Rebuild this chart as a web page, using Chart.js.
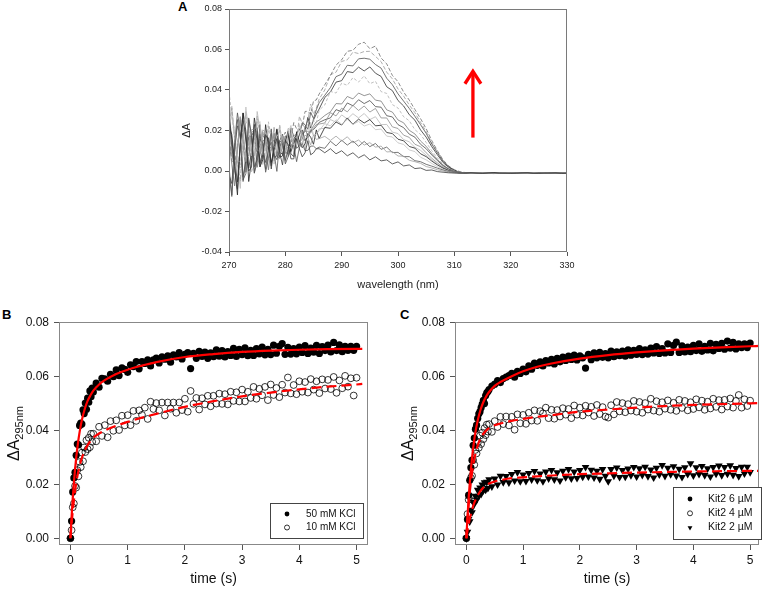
<!DOCTYPE html>
<html>
<head>
<meta charset="utf-8">
<script src="https://cdn.jsdelivr.net/npm/chart.js@4.4.1/dist/chart.umd.min.js"></script>
<style>
  html, body { margin: 0; padding: 0; background: #fff; }
  body { width: 764px; height: 592px; position: relative; overflow: hidden; font-family: "Liberation Sans", Arial, sans-serif; }
  .panel { position: absolute; }
  .tag { position: absolute; font-weight: bold; font-size: 13px; line-height: 13px; color: #000; }
</style>
</head>
<body>
<div class="tag" style="left:178px;top:0px">A</div>
<div class="tag" style="left:2px;top:308px">B</div>
<div class="tag" style="left:400px;top:308px">C</div>
<div class="panel" style="left:140px;top:0;width:450px;height:300px"><canvas id="chart-a"></canvas></div>
<div class="panel" style="left:0;top:300px;width:380px;height:292px"><canvas id="chart-b"></canvas></div>
<div class="panel" style="left:384px;top:300px;width:380px;height:292px"><canvas id="chart-c"></canvas></div>
<script>
/* ---------- data (absorbance values in units of 1e-4) ---------- */

// Panel A – difference spectra
const wavelengths = [270,270.5,271,271.5,272,272.5,273,273.5,274,274.5,275,275.5,276,276.5,277,277.5,278,278.5,279,279.5,280,280.5,281,281.5,282,282.5,283,283.5,284,284.5,285,285.5,286,
  287,288,289,290,291,292,293,294,295,296,297,298,299,300,301,302,303,304,305,306,307,308,309,310,
  311,312,313,314,315,316,317,318,319,320,321,322,323,324,325,326,327,328,329,330];

const spectrum1 = [270,120,10,-90,130,250,170,0,20,230,150,20,80,180,150,10,120,160,90,30,150,130,60,60,160,110,70,90,150,80,90,110,110,
  90,110,85,100,75,90,65,80,55,70,50,55,35,45,25,30,12,15,3,5,-3,-6,-9,-10,
  -10,-11,-9,-10,-12,-10,-9,-11,-10,-12,-11,-10,-9,-11,-12,-10,-11,-10,-12,-11];
const spectrum2 = [215,90,-6,100,269,212,46,138,204,206,107,92,203,191,74,110,216,136,78,169,167,127,112,159,170,139,138,178,164,129,178,156,160,
  171,151,172,148,169,139,153,128,140,118,123,94,96,74,73,53,46,38,22,15,6,0,-6,-9,
  -11,-10,-12,-9,-10,-11,-13,-10,-9,-11,-10,-12,-10,-9,-11,-10,-12,-11,-9,-10];
const spectrum3 = [-10,-126,100,254,162,-44,-12,254,166,-8,42,158,136,-6,60,186,86,-2,150,133,35,70,129,125,46,116,137,100,102,123,123,110,118,
  112,147,124,152,128,148,122,146,120,136,107,118,91,92,71,71,51,46,33,24,14,5,-3,-8,
  -9,-11,-10,-12,-10,-9,-11,-10,-12,-10,-11,-9,-10,-12,-11,-10,-9,-11,-10,-12];
const spectrum4 = [330,260,210,50,46,150,316,188,74,142,226,244,78,158,212,174,116,170,194,164,122,186,225,107,156,223,173,158,174,241,176,182,199,
  234,223,253,231,255,230,245,222,232,204,207,172,168,139,131,104,96,68,55,37,21,8,-1,-6,
  -10,-12,-10,-11,-9,-10,-12,-11,-10,-9,-11,-10,-12,-10,-11,-9,-10,-11,-12,-10];
const spectrum5 = [285,155,20,-118,140,287,196,-52,54,262,178,21,56,229,113,42,100,208,68,74,149,182,85,71,194,146,115,134,185,167,132,203,160,
  215,211,242,227,262,231,256,237,254,223,226,190,185,157,149,121,113,85,71,49,30,14,2,-5,
  -11,-9,-10,-12,-11,-10,-9,-11,-12,-10,-10,-11,-9,-12,-10,-11,-10,-9,-11,-10];
const spectrum6 = [140,80,42,100,242,156,88,74,192,198,106,86,194,138,102,100,188,138,84,171,149,123,150,174,183,123,194,197,196,188,211,230,232,
  237,288,272,310,292,324,299,321,291,309,262,262,218,210,177,166,132,120,90,63,40,19,5,-3,
  -9,-10,-11,-10,-12,-9,-10,-11,-10,-11,-12,-10,-9,-10,-11,-12,-10,-10,-11,-9];
const spectrum7 = [-20,-62,110,223,174,-28,56,168,172,-11,84,181,97,8,110,142,82,56,114,156,52,105,146,157,112,126,203,149,182,199,205,220,240,
  253,262,303,293,336,322,352,333,348,318,315,273,267,229,214,182,167,132,110,79,51,26,9,-2,
  -10,-11,-9,-10,-12,-10,-11,-10,-9,-12,-10,-11,-10,-9,-11,-10,-12,-10,-11,-10];
const spectrum8 = [390,275,155,90,14,180,249,202,86,78,244,196,107,102,243,161,104,130,226,126,88,199,189,156,147,234,193,192,240,252,251,238,300,
  326,393,385,434,423,461,439,470,431,443,392,383,328,311,268,248,204,181,141,100,65,34,13,1,
  -8,-10,-11,-10,-9,-12,-10,-11,-10,-10,-9,-11,-12,-10,-11,-9,-10,-12,-10,-11];
const spectrum9 = [220,180,50,-54,130,286,148,14,92,196,214,38,98,172,164,26,130,204,94,82,145,197,96,140,187,206,181,196,265,212,252,281,306,
  363,390,439,446,491,486,513,494,514,483,467,416,397,348,321,278,251,203,167,120,80,42,18,3,
  -7,-9,-10,-11,-10,-12,-9,-10,-11,-10,-12,-10,-9,-11,-10,-10,-12,-11,-9,-10];
const spectrum10 = [180,50,32,120,252,176,38,124,192,158,86,126,174,158,102,120,158,128,114,160,192,112,165,239,208,208,218,294,295,281,346,351,380,
  426,471,523,549,591,596,626,636,604,617,558,529,472,441,390,350,304,259,209,150,100,55,25,6,
  -3,-8,-10,-9,-11,-10,-12,-10,-9,-11,-10,-11,-10,-12,-9,-10,-11,-10,-12,-10];
const spectrum11 = [20,-118,140,287,196,-52,54,262,178,21,56,229,113,42,100,208,68,74,149,182,94,83,213,171,149,177,238,229,206,290,259,302,337,
  374,412,466,478,522,519,554,557,552,526,508,458,426,381,345,309,270,229,186,133,89,48,21,4,
  -9,-10,-11,-10,-9,-12,-10,-11,-10,-9,-11,-10,-12,-10,-9,-11,-10,-12,-10,-11];
const spectrum12 = [240,310,160,50,-50,170,290,210,40,60,270,190,60,120,220,190,50,160,200,130,85,210,200,140,155,270,235,210,250,330,280,310,355,
  400,475,488,541,549,587,580,590,591,566,540,488,455,405,370,326,288,240,195,139,95,52,22,5,
  -8,-10,-9,-11,-10,-12,-10,-9,-11,-10,-12,-10,-11,-9,-10,-12,-10,-11,-10,-9];
const spectrum13 = [160,30,-74,110,266,128,-6,72,176,194,18,78,152,144,6,110,184,74,62,125,173,71,113,157,173,144,156,221,163,198,223,243,251,
  274,292,333,331,368,356,385,372,381,350,345,302,291,252,238,201,183,148,122,87,57,29,11,-1,
  -10,-12,-10,-9,-11,-10,-11,-12,-10,-9,-10,-11,-10,-12,-10,-9,-11,-10,-11,-12];
const spectrum14 = [200,320,160,30,-86,140,294,202,-4,28,294,206,32,82,198,176,34,100,226,126,41,194,180,84,122,184,184,108,182,208,175,182,208,
  211,254,241,277,257,283,262,284,254,268,229,230,192,185,155,144,117,102,78,55,34,16,3,-4,
  -11,-10,-9,-12,-10,-11,-10,-9,-12,-11,-10,-10,-9,-11,-12,-10,-11,-9,-10,-11];

const spectra = [spectrum1, spectrum2, spectrum3, spectrum4, spectrum5, spectrum6, spectrum7,
  spectrum8, spectrum9, spectrum10, spectrum11, spectrum12, spectrum13, spectrum14];
const spectrumColors = ['#3a3a3a', '#a0a0a0', '#555555', '#c0c0c0', '#222222', '#8c8c8c', '#4a4a4a',
  '#b0b0b0', '#303030', '#6e6e6e', '#505050', '#9a9a9a', '#7a7a7a', '#b8b8b8'];
const spectrumDash = [[], [], [], [], [], [], [], [3, 2], [], [4, 2], [], [4, 2], [], []];

const arrowFrom = [313.3, 0.0165];
const arrowTo = [313.3, 0.050];

const wlTicks = [270, 280, 290, 300, 310, 320, 330];
const dATicks = [-0.04, -0.02, 0, 0.02, 0.04, 0.06, 0.08];

// Panels B and C – stopped-flow traces at 295 nm
const time = [0,0.02,0.04,0.06,0.08,0.1,0.12,0.14,0.16,0.18,0.2,0.22,0.24,0.26,0.28,0.3,0.32,0.34,0.36,0.38,0.4,
  0.45,0.5,0.55,0.6,0.65,0.7,0.75,0.8,0.85,0.9,0.95,1,
  1.05,1.1,1.15,1.2,1.25,1.3,1.35,1.4,1.45,1.5,1.55,1.6,1.65,1.7,1.75,1.8,1.85,1.9,1.95,2,
  2.05,2.1,2.15,2.2,2.25,2.3,2.35,2.4,2.45,2.5,2.55,2.6,2.65,2.7,2.75,2.8,2.85,2.9,2.95,3,
  3.05,3.1,3.15,3.2,3.25,3.3,3.35,3.4,3.45,3.5,3.55,3.6,3.65,3.7,3.75,3.8,3.85,3.9,3.95,4,
  4.05,4.1,4.15,4.2,4.25,4.3,4.35,4.4,4.45,4.5,4.55,4.6,4.65,4.7,4.75,4.8,4.85,4.9,4.95,5];

const kcl50 = [0,64,172,224,245,308,350,347,419,428,424,477,463,502,479,520,505,547,525,558,543,
  576,561,594,592,583,609,600,625,604,633,627,616,
  644,637,656,629,656,649,662,640,662,669,651,674,665,677,654,681,673,689,666,683,
  689,630,687,668,694,675,691,668,688,674,700,676,697,673,693,679,705,675,701,682,
  707,678,698,679,704,685,710,681,701,682,717,687,713,723,683,709,684,704,685,710,
  690,715,686,706,691,716,686,712,697,717,692,727,697,718,693,713,698,713,698,713];
const kcl10 = [0,30,115,129,194,188,253,230,283,264,318,286,337,320,364,331,373,338,388,358,388,
  360,414,380,420,375,435,399,438,402,455,419,457,
  420,473,436,475,458,485,443,507,480,502,475,504,456,504,481,504,466,504,476,518,
  470,547,499,521,478,520,497,529,490,529,500,537,499,535,497,544,510,542,508,552,
  508,544,521,562,518,555,531,562,513,571,532,558,524,570,541,597,538,569,535,583,
  544,580,541,591,552,583,539,590,556,588,554,599,540,586,557,603,563,594,530,596];

const kit6 = [0,70,160,215,262,290,345,372,405,420,445,462,470,485,498,512,500,530,540,545,552,
  565,572,585,578,593,598,604,612,598,620,612,628,
  618,640,628,650,642,655,640,660,651,664,647,668,655,673,660,676,664,680,662,677,
  670,632,683,663,688,670,690,672,686,670,695,674,692,678,695,676,700,680,698,683,
  704,682,700,684,706,688,712,686,704,688,722,690,716,728,690,714,692,710,693,716,
  697,722,694,713,699,724,696,720,705,724,702,732,706,727,703,722,708,722,708,725];
const kit4 = [0,90,143,155,224,232,290,273,328,315,354,336,381,350,392,368,409,383,422,396,424,
  395,435,413,451,424,452,419,451,403,460,427,458,
  425,466,437,475,436,472,464,485,446,477,444,476,452,483,459,480,446,493,459,485,
  456,492,467,488,454,495,461,487,452,448,494,460,506,471,502,468,498,474,510,470,
  506,466,502,478,518,474,509,470,505,481,512,477,503,473,514,484,510,475,505,480,
  516,486,511,477,507,482,518,488,513,478,514,489,519,485,510,532,485,516,491,511];
const kit2 = [0,23,71,62,105,96,134,127,157,142,179,157,188,164,199,178,207,180,209,186,218,
  192,221,199,231,208,230,207,238,214,245,211,236,
  212,242,218,249,215,240,211,247,222,253,218,244,214,250,226,256,222,247,223,253,
  228,264,229,254,225,250,220,256,231,211,256,232,262,227,253,228,258,234,264,229,
  259,235,265,230,255,225,261,236,271,231,261,237,267,232,257,227,263,238,278,233,
  263,238,268,234,259,229,264,239,269,234,264,239,270,235,260,230,265,240,265,245];

// fitted curves
const fitTimeB = [0,0.02,0.04,0.06,0.08,0.1,0.13,0.16,0.2,0.25,0.3,0.35,0.4,0.5,0.6,0.8,1,1.25,1.5,2,2.5,3,3.5,4,4.5,5,5.1];
const fitKcl50 = [0,79,147,204,255,298,351,394,439,480,510,531,548,571,587,610,626,641,654,673,684,692,697,700,702,703,703];
const fitKcl10 = [0,54,100,139,174,203,240,268,298,326,346,361,373,389,400,418,432,448,462,488,509,527,541,553,563,571,573];
const fitTimeC = [0,0.02,0.04,0.06,0.08,0.1,0.13,0.16,0.2,0.25,0.3,0.35,0.4,0.5,0.6,0.8,1,1.25,1.5,2,2.5,3,3.5,4,4.5,5,5.16];
const fitKit6 = [0,79,147,204,255,298,351,394,437,477,506,527,543,566,580,602,620,637,649,667,680,690,698,704,709,713,714];
const fitKit4 = [0,67,123,170,209,242,282,313,344,371,388,400,409,420,426,436,443,451,457,470,478,485,491,495,498,501,502];
const fitKit2 = [0,28,51,72,90,106,126,142,159,176,188,197,203,211,216,223,226,230,233,238,241,244,246,248,249,250,250];

const timeTicks = [0, 1, 2, 3, 4, 5];
const absTicks = [0, 0.02, 0.04, 0.06, 0.08];

/* ---------- helpers ---------- */

const FONT = '"Liberation Sans", Arial, sans-serif';
const RED = '#ff0000';
Chart.defaults.font.family = FONT;

const toXY = (xs, ys) => ys.map((v, i) => ({ x: xs[i], y: v / 1e4 }));

// box around the plot area
const framePlugin = {
  id: 'frame',
  afterDatasetsDraw(chart, args, opts) {
    const { ctx, chartArea: a } = chart;
    ctx.save();
    ctx.strokeStyle = opts.color || '#888';
    ctx.lineWidth = 1;
    const l = Math.round(a.left) + 0.5, t = Math.round(a.top) + 0.5;
    const r = Math.round(a.right) - 0.5, b = Math.round(a.bottom) - 0.5;
    ctx.strokeRect(l, t, r - l, b - t);
    ctx.restore();
  }
};

// red arrow in panel A, placed in data coordinates
const arrowPlugin = {
  id: 'arrow',
  afterDatasetsDraw(chart, args, opts) {
    if (!opts.from) return;
    const { ctx, scales: { x, y } } = chart;
    const x0 = x.getPixelForValue(opts.from[0]), y0 = y.getPixelForValue(opts.from[1]);
    const x1 = x.getPixelForValue(opts.to[0]), y1 = y.getPixelForValue(opts.to[1]);
    ctx.save();
    ctx.strokeStyle = RED;
    ctx.lineWidth = 3.3;
    ctx.beginPath();
    ctx.moveTo(x0, y0);
    ctx.lineTo(x1, y1 + 2);
    ctx.stroke();
    ctx.lineJoin = 'miter';
    ctx.beginPath();
    ctx.moveTo(x1 - 8, y1 + 14);
    ctx.lineTo(x1, y1 + 1.5);
    ctx.lineTo(x1 + 8, y1 + 14);
    ctx.stroke();
    ctx.restore();
  }
};

// rotated y title with subscript: ΔA295nm
const subTitlePlugin = {
  id: 'subTitle',
  afterDraw(chart, args, o) {
    if (!o.main) return;
    const { ctx, chartArea: a } = chart;
    ctx.save();
    ctx.translate(o.x, (a.top + a.bottom) / 2);
    ctx.rotate(-Math.PI / 2);
    ctx.fillStyle = '#111';
    ctx.textBaseline = 'alphabetic';
    ctx.font = '16px ' + FONT;
    const w1 = ctx.measureText(o.main).width;
    ctx.font = '11px ' + FONT;
    const w2 = ctx.measureText(o.sub).width;
    const start = -(w1 + w2) / 2;
    ctx.font = '16px ' + FONT;
    ctx.fillText(o.main, start, 0);
    ctx.font = '11px ' + FONT;
    ctx.fillText(o.sub, start + w1, 4);
    ctx.restore();
  }
};

// boxed legend inside the plot
const insetLegendPlugin = {
  id: 'insetLegend',
  afterDraw(chart, args, o) {
    if (!o.items) return;
    const ctx = chart.ctx;
    const [bx, by, bw, bh] = o.box;
    ctx.save();
    ctx.fillStyle = '#fff';
    ctx.fillRect(bx, by, bw, bh);
    ctx.strokeStyle = '#444';
    ctx.lineWidth = 1;
    ctx.strokeRect(bx + 0.5, by + 0.5, bw, bh);
    ctx.font = o.fontSize + 'px ' + FONT;
    ctx.textBaseline = 'middle';
    o.items.forEach((it, i) => {
      const yy = by + o.firstY + i * o.gap;
      ctx.fillStyle = it.fill;
      ctx.strokeStyle = '#000';
      ctx.lineWidth = it.borderWidth;
      Chart.helpers.drawPoint(ctx, { pointStyle: it.style, radius: it.radius, rotation: it.rotation || 0, borderWidth: it.borderWidth }, bx + o.markerX, yy);
      ctx.fillStyle = '#111';
      ctx.fillText(it.text, bx + o.textX, yy);
    });
    ctx.restore();
  }
};

function axisTicks(values) {
  return scale => { scale.ticks = values.map(v => ({ value: v })); };
}

/* ---------- panel A ---------- */

new Chart(document.getElementById('chart-a'), {
  type: 'line',
  data: {
    datasets: spectra.map((s, i) => ({
      data: toXY(wavelengths, s),
      borderColor: spectrumColors[i],
      borderWidth: 0.8,
      borderDash: spectrumDash[i],
      pointRadius: 0,
      tension: 0
    }))
  },
  options: {
    responsive: true,
    maintainAspectRatio: false,
    animation: false,
    layout: { padding: { left: 0, right: 23, top: 9, bottom: 0 } },
    plugins: {
      legend: { display: false },
      tooltip: { enabled: false },
      frame: { color: '#7a7a7a' },
      arrow: { from: arrowFrom, to: arrowTo }
    },
    scales: {
      x: {
        type: 'linear', min: 270, max: 330,
        afterBuildTicks: axisTicks(wlTicks),
        afterFit: s => { s.height = 48; },
        border: { display: false },
        grid: { drawOnChartArea: false, drawTicks: true, tickLength: 4, color: '#555' },
        ticks: { font: { size: 9 }, color: '#222', padding: 4, maxRotation: 0, callback: v => String(v) },
        title: { display: true, text: 'wavelength (nm)', font: { size: 11 }, color: '#222', padding: { top: 0, bottom: 8 } }
      },
      y: {
        min: -0.04, max: 0.08,
        afterBuildTicks: axisTicks(dATicks),
        afterFit: s => { s.width = 89; },
        border: { display: false },
        grid: { drawOnChartArea: false, drawTicks: true, tickLength: 4, color: '#555' },
        ticks: { font: { size: 9 }, color: '#222', padding: 3, callback: v => v.toFixed(2) },
        title: { display: true, text: 'ΔA', font: { size: 11 }, color: '#222', padding: { top: 40, bottom: 0 } }
      }
    }
  },
  plugins: [framePlugin, arrowPlugin]
});

/* ---------- panels B and C ---------- */

function kineticsOptions(xMax, yWidth, padRight, titleX, legend) {
  return {
    responsive: true,
    maintainAspectRatio: false,
    animation: false,
    layout: { padding: { left: 0, right: padRight, top: 22, bottom: 0 } },
    plugins: {
      legend: { display: false },
      tooltip: { enabled: false },
      frame: { color: '#888' },
      subTitle: { main: 'ΔA', sub: '295nm', x: titleX },
      insetLegend: legend
    },
    scales: {
      x: {
        type: 'linear', min: -0.2, max: xMax,
        afterBuildTicks: axisTicks(timeTicks),
        afterFit: s => { s.height = 47; },
        border: { display: false },
        grid: { drawOnChartArea: false, drawTicks: true, tickLength: 5, color: '#555' },
        ticks: { font: { size: 12 }, color: '#111', padding: 3, maxRotation: 0, callback: v => String(v) },
        title: { display: true, text: 'time (s)', font: { size: 14 }, color: '#111', padding: { top: 0, bottom: 4 } }
      },
      y: {
        min: -0.0025, max: 0.0803,
        afterBuildTicks: axisTicks(absTicks),
        afterFit: s => { s.width = yWidth; },
        border: { display: false },
        grid: { drawOnChartArea: false, drawTicks: true, tickLength: 5, color: '#555' },
        ticks: { font: { size: 12 }, color: '#111', padding: 5, callback: v => v.toFixed(2) }
      }
    }
  };
}

const fitLine = (xs, ys, dashed) => ({
  type: 'line', data: toXY(xs, ys), borderColor: RED, borderWidth: 2.2,
  borderDash: dashed ? [10, 5] : [], pointRadius: 0, cubicInterpolationMode: 'monotone'
});
const filledDots = ys => ({
  type: 'scatter', data: toXY(time, ys), pointRadius: 3.6,
  pointBackgroundColor: '#000', pointBorderColor: '#000', pointBorderWidth: 0
});
const openDots = ys => ({
  type: 'scatter', data: toXY(time, ys), pointRadius: 3.4,
  pointBackgroundColor: 'rgba(0,0,0,0)', pointBorderColor: '#000', pointBorderWidth: 0.8
});
const triangles = ys => ({
  type: 'scatter', data: toXY(time, ys), pointRadius: 4.4, pointStyle: 'triangle', pointRotation: 180,
  pointBackgroundColor: '#000', pointBorderColor: '#000', pointBorderWidth: 0
});

new Chart(document.getElementById('chart-b'), {
  type: 'scatter',
  data: {
    datasets: [fitLine(fitTimeB, fitKcl50, false), fitLine(fitTimeB, fitKcl10, true), filledDots(kcl50), openDots(kcl10)]
  },
  options: kineticsOptions(5.2, 59, 12, 19, {
    box: [270, 203, 93, 35], markerX: 17, textX: 36, firstY: 11, gap: 13.5, fontSize: 10,
    items: [
      { text: '50 mM KCl', style: 'circle', radius: 2.4, fill: '#000', borderWidth: 0 },
      { text: '10 mM KCl', style: 'circle', radius: 2.5, fill: 'rgba(0,0,0,0)', borderWidth: 0.8 }
    ]
  }),
  plugins: [framePlugin, subTitlePlugin, insetLegendPlugin]
});

new Chart(document.getElementById('chart-c'), {
  type: 'scatter',
  data: {
    datasets: [fitLine(fitTimeC, fitKit6, false), fitLine(fitTimeC, fitKit4, true), fitLine(fitTimeC, fitKit2, true),
      filledDots(kit6), openDots(kit4), triangles(kit2)]
  },
  options: kineticsOptions(5.16, 71, 2, 29, {
    box: [289, 187, 88, 52], markerX: 17, textX: 35, firstY: 12, gap: 14.3, fontSize: 10.5,
    items: [
      { text: 'Kit2 6 µM', style: 'circle', radius: 2.4, fill: '#000', borderWidth: 0 },
      { text: 'Kit2 4 µM', style: 'circle', radius: 2.5, fill: 'rgba(0,0,0,0)', borderWidth: 0.8 },
      { text: 'Kit2 2 µM', style: 'triangle', radius: 2.8, rotation: 180, fill: '#000', borderWidth: 0 }
    ]
  }),
  plugins: [framePlugin, subTitlePlugin, insetLegendPlugin]
});
</script>
</body>
</html>
